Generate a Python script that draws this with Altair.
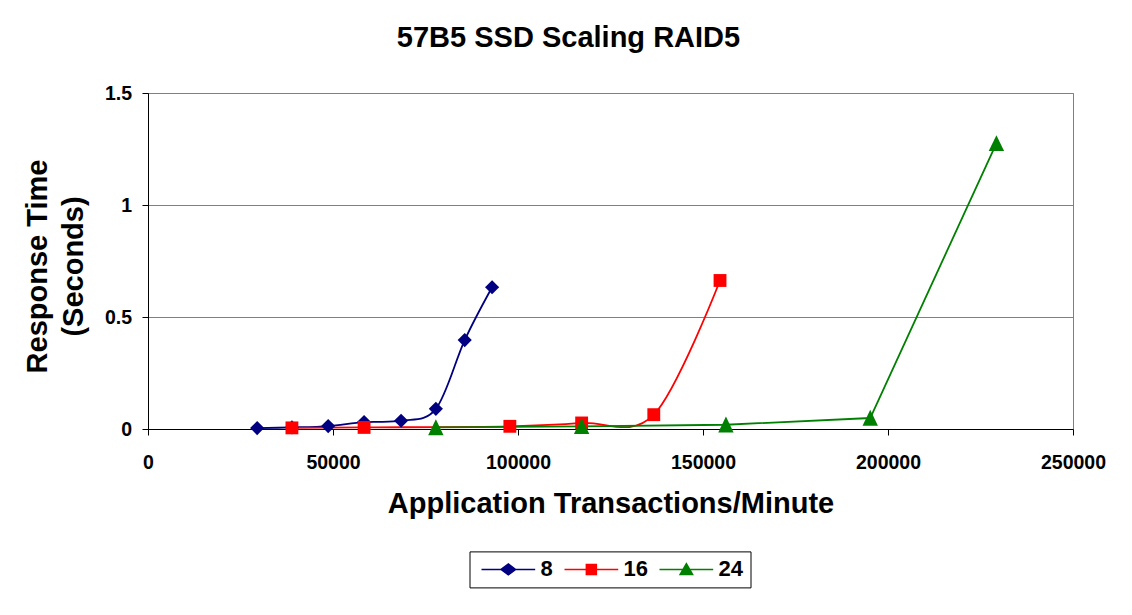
import altair as alt
import pandas as pd

# ---- data ----
series_names = ["8", "16", "24"]

x8 = [29500, 38900, 48700, 58400, 68400, 77800, 85600, 93000]
y8 = [0.004, 0.007, 0.013, 0.031, 0.037, 0.090, 0.397, 0.633]

x16 = [38900, 58400, 97800, 117200, 136700, 154600]
y16 = [0.005, 0.007, 0.012, 0.027, 0.064, 0.663]

x24 = [77800, 117200, 156200, 195200, 229300]
y24 = [0.007, 0.012, 0.019, 0.049, 1.275]

x_ticks = [0, 50000, 100000, 150000, 200000, 250000]
y_ticks = [0, 0.5, 1, 1.5]

colors = ["#000080", "#FF0000", "#008000"]
shapes = ["diamond", "square", "M0,-1.45L1.35,1.35L-1.35,1.35Z"]
marker_sizes = [200, 130, 100]
legend_paths = [
    "M-1.2,0H9.54M2.72,0L4.17,-1.1L5.62,0L4.17,1.1Z",
    "M-1.2,0H9.54M3.17,-1H5.17V1H3.17Z",
    "M-1.2,0H9.54M4.17,-1.15L5.42,1L2.92,1Z",
]

rows = []
for name, xs, ys in zip(series_names, [x8, x16, x24], [y8, y16, y24]):
    for i, (a, b) in enumerate(zip(xs, ys)):
        rows.append({"series": name, "x": a, "y": b, "order": i})
df = pd.DataFrame(rows)

FONT = "Liberation Sans"

x_enc = alt.X(
    "x:Q",
    scale=alt.Scale(domain=[0, 250000], nice=False),
    axis=alt.Axis(
        values=x_ticks, format="d", grid=False,
        domainColor="black", tickColor="black", tickSize=6,
        labelFont=FONT, labelFontSize=19.5, labelFontWeight="bold", labelColor="black",
        labelBaseline="alphabetic", labelPadding=33, labelFlush=False,
        titleFont=FONT, titleFontSize=29, titleFontWeight="bold", titleColor="black",
        titleBaseline="alphabetic", titleY=83.4,
    ),
    title="Application Transactions/Minute",
)
y_enc = alt.Y(
    "y:Q",
    scale=alt.Scale(domain=[0, 1.5], nice=False),
    axis=alt.Axis(
        values=y_ticks, labelExpr="'' + datum.value",
        grid=True, gridColor="#808080", gridWidth=1,
        domainColor="black", tickColor="black", tickSize=6,
        labelFont=FONT, labelFontSize=19.5, labelFontWeight="bold", labelColor="black",
        labelPadding=10.5, labelFlush=False,
        titleFont=FONT, titleFontSize=29, titleFontWeight="bold", titleColor="black",
        titleAngle=270, titleAlign="center", titleBaseline="alphabetic",
        titleX=-101.8, titleY=173, titleLineHeight=36.6,
    ),
    title=["Response Time", "(Seconds)"],
)

color_scale = alt.Scale(domain=series_names, range=colors)

base = alt.Chart(df)

smooth = base.transform_filter(
    alt.FieldOneOfPredicate(field="series", oneOf=["8", "16"])
).mark_line(interpolate="cardinal", strokeWidth=1.8).encode(
    x=x_enc, y=y_enc,
    color=alt.Color("series:N", scale=color_scale, legend=None),
    order="order:Q",
)

straight = base.transform_filter(
    alt.FieldEqualPredicate(field="series", equal="24")
).mark_line(strokeWidth=1.8).encode(
    x=x_enc, y=y_enc,
    color=alt.Color("series:N", scale=color_scale, legend=None),
    order="order:Q",
)

points = base.mark_point(filled=True, opacity=1).encode(
    x=x_enc, y=y_enc,
    color=alt.Color("series:N", scale=color_scale, legend=None),
    shape=alt.Shape("series:N", scale=alt.Scale(domain=series_names, range=shapes), legend=None),
    size=alt.Size("series:N", scale=alt.Scale(domain=series_names, range=marker_sizes), legend=None),
)

legend_def = alt.Legend(
    title=None, orient="none", legendX=321.5, legendY=458.4,
    direction="horizontal", symbolSize=100, symbolStrokeWidth=1.5, symbolOpacity=1,
    labelFont=FONT, labelFontSize=22, labelFontWeight="bold", labelColor="black",
    labelOffset=42, columnPadding=6, padding=7,
    strokeColor="black", fillColor="white",
)

legend_layer = base.transform_filter("datum.y < -1").mark_point(opacity=1, strokeWidth=1.5).encode(
    x=x_enc, y=y_enc,
    shape=alt.Shape("series:N", scale=alt.Scale(domain=series_names, range=legend_paths), legend=legend_def),
    fill=alt.Fill("series:N", scale=alt.Scale(domain=series_names, range=colors), legend=legend_def),
    stroke=alt.Stroke("series:N", scale=alt.Scale(domain=series_names, range=colors), legend=legend_def),
)

chart = alt.layer(smooth, straight, points, legend_layer).resolve_scale(
    shape="independent", fill="independent", stroke="independent"
).properties(
    width=925, height=336,
    autosize=alt.AutoSizeParams(type="none"),
    padding={"left": 140, "top": 85, "right": 43, "bottom": 170},
    title=alt.TitleParams(
        "57B5 SSD Scaling RAID5", font=FONT, fontSize=29, fontWeight="bold", color="black",
        anchor="middle", frame="group", dx=-42, baseline="alphabetic", offset=7,
    ),
    background="white",
).configure_view(stroke="#808080", strokeWidth=1)

chart.save("out.html", embed_options={"renderer": "svg", "actions": False})
